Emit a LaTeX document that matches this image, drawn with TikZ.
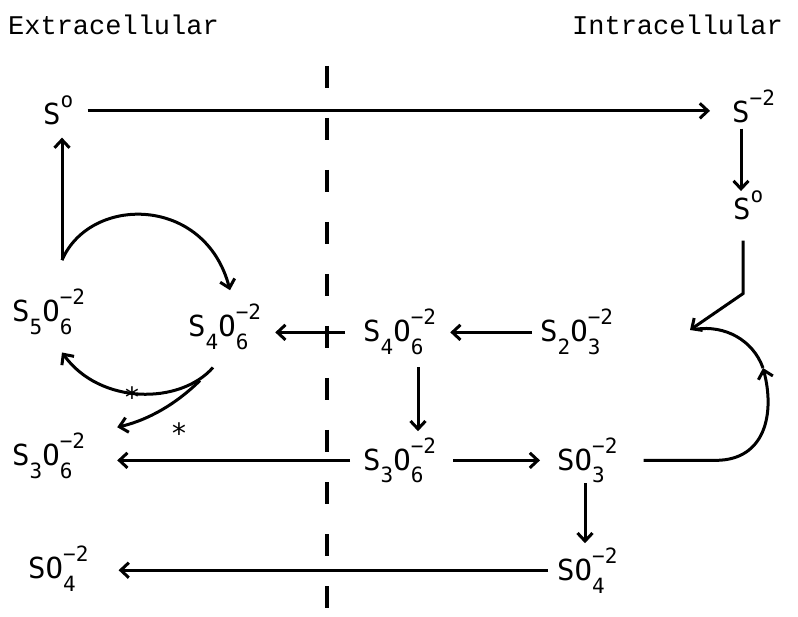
\documentclass[tikz,border=0pt]{standalone}
\usepackage{fontspec}
\usepackage{tikz}
\usetikzlibrary{arrows.meta}
\usepackage{xcolor}
\newfontfamily\formfont{DejaVu Sans Mono}
\newfontfamily\headfont{Liberation Mono}
\newcommand{\bigsize}{\fontsize{29}{32}\selectfont}
\newcommand{\smallsize}{\fontsize{21}{24}\selectfont}
\newcommand{\lo}[1]{\raisebox{-13pt}{\smallsize #1}}
\newcommand{\hi}[1]{\raisebox{17pt}{\smallsize #1}}
\newcommand{\lohi}[2]{\makebox[0pt][l]{\lo{#1}}\hi{#2}}

\begin{document}
\begin{tikzpicture}[x=1pt,y=-1pt,
  ion/.style={inner sep=0pt,anchor=base west,font=\formfont\bigsize},
  head/.style={inner sep=0pt,font=\headfont\fontsize{27}{30}\selectfont},
  starmark/.style={inner sep=0pt,font=\formfont\fontsize{28}{30}\selectfont},
  flow/.style={line width=3pt,-{Straight Barb[length=8pt,width=15pt]}},
  flowline/.style={line width=3pt}]

  \useasboundingbox (0,0) rectangle (798,617);

  \node[head,anchor=base west] (extra) at (8,35) {Extracellular};
  \node[head,anchor=base east] (intra) at (783,35) {Intracellular};
  \draw[line width=3.2pt,dash pattern=on 22pt off 30pt] (327,66) -- (327,617);

  \node[ion] (so1) at (43,125) {S\hi{o}};
  \node[ion] (sm2) at (732,123) {S\hi{−2}};
  \node[ion] (so2) at (733,220) {S\hi{o}};
  \node[ion] (s5o6) at (12,322) {S\lo{5}O\lohi{6}{−2}};
  \node[ion] (s4o6a) at (188,337) {S\lo{4}O\lohi{6}{−2}};
  \node[ion] (s4o6b) at (363,342) {S\lo{4}O\lohi{6}{−2}};
  \node[ion] (s2o3) at (540,342) {S\lo{2}O\lohi{3}{−2}};
  \node[ion] (s3o6a) at (12,465) {S\lo{3}O\lohi{6}{−2}};
  \node[ion] (s3o6b) at (363,470) {S\lo{3}O\lohi{6}{−2}};
  \node[ion] (so3) at (557,470) {SO\lohi{3}{−2}};
  \node[ion] (so4a) at (28,578) {SO\lohi{4}{−2}};
  \node[ion] (so4b) at (557,580) {SO\lohi{4}{−2}};
  \node[starmark] (star1) at (132,397) {*};
  \node[starmark] (star2) at (179,433) {*};

  \coordinate (merge) at (690,330);
  \coordinate (bend) at (763,368);
  \coordinate (s5top) at ([xshift=50pt,yshift=29pt]s5o6.north west);

  \draw[flow,shorten <=14pt,shorten >=22pt] (so1.east) -- (so1.east -| sm2.west);
  \draw[flow,shorten <=5pt] ([xshift=9pt]sm2.south west) -- ([xshift=9pt]sm2.south west |- so2.north);
  \draw[flow] ([xshift=10pt,yshift=-20pt]so2.south west) -- ++(0,53) -- (merge);
  \draw[flow,shorten >=12pt] (s5top) -- (s5top |- so1.south);
  \draw[flow] (s5top) .. controls (90,195) and (205,195) .. ([xshift=42pt,yshift=14pt]s4o6a.north west);
  \draw[flow] ([xshift=25pt,yshift=-17pt]s4o6a.south west) .. controls (180,405) and (100,405) .. ([xshift=50pt,yshift=-17pt]s5o6.south west);
  \draw[flow] ([xshift=12pt,yshift=-30pt]s4o6a.south west) .. controls (170,410) and (140,422) .. ([xshift=32pt,yshift=5pt]s3o6a.north east);
  \draw[flow,shorten <=18pt,shorten >=14pt] (s4o6b.west) -- (s4o6b.west -| s4o6a.east);
  \draw[flow,shorten <=8pt,shorten >=14pt] (s2o3.west) -- (s2o3.west -| s4o6b.east);
  \draw[flow,shorten <=12pt,shorten >=6pt] ([xshift=55pt]s4o6b.south west) -- ([xshift=55pt]s4o6b.south west |- s3o6b.north);
  \draw[flow,shorten <=17pt,shorten >=17pt] (s3o6b.east) -- (s3o6b.east -| so3.west);
  \draw[flow,shorten <=13pt,shorten >=32pt] (s3o6b.west) -- (s3o6b.west -| s3o6a.east);
  \draw[flow,shorten >=4pt] ([xshift=28pt]so3.south west) -- ([xshift=28pt]so3.south west |- so4b.north);
  \draw[flow,shorten <=9pt,shorten >=30pt] (so4b.west) -- (so4b.west -| so4a.east);
  \draw[flow] ([xshift=26pt]so3.east) -- ++(72,0) .. controls +(50,0) and +(12,45) .. (bend);
  \draw[flowline,shorten >=6pt] (bend) .. controls +(-10,-28) and +(35,-5) .. (merge);

\end{tikzpicture}
\end{document}
